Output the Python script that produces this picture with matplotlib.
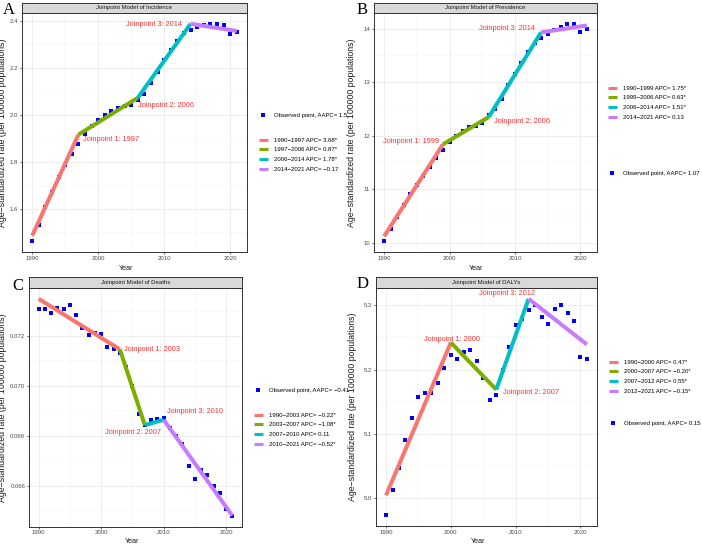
import numpy as np
import matplotlib.pyplot as plt
from matplotlib.lines import Line2D

plt.rcParams['font.family'] = ['Liberation Sans', 'DejaVu Sans']

# Jahre der Beobachtungen
years = np.arange(1990, 2022)

# A: Inzidenz
inc_obs = [1.466, 1.536, 1.610, 1.674, 1.737, 1.790, 1.834, 1.879, 1.921, 1.953,
           1.981, 1.999, 2.016, 2.028, 2.037, 2.043, 2.063, 2.091, 2.137, 2.183,
           2.231, 2.275, 2.314, 2.346, 2.362, 2.372, 2.380, 2.384, 2.386, 2.380,
           2.343, 2.350]
inc_jp = [1990, 1997, 2006, 2014, 2021]
inc_fit = [1.489, 1.917, 2.073, 2.386, 2.356]
inc_seg = ["1990−1997 APC= 3.68*", "1997−2006 APC= 0.87*",
           "2006−2014 APC= 1.78*", "2014−2021 APC= −0.17"]
inc_aapc = "Observed point, AAPC= 1.5"

# B: Prävalenz
prev_obs = [10.03, 10.26, 10.49, 10.70, 10.91, 11.08, 11.25, 11.41, 11.59, 11.73,
            11.88, 11.99, 12.08, 12.16, 12.19, 12.24, 12.38, 12.49, 12.69, 12.94,
            13.16, 13.36, 13.56, 13.73, 13.82, 13.90, 13.97, 14.03, 14.08, 14.09,
            13.94, 14.00]
prev_jp = [1990, 1999, 2006, 2014, 2021]
prev_fit = [10.12, 11.84, 12.35, 13.93, 14.06]
prev_seg = ["1990−1999 APC= 1.75*", "1999−2006 APC= 0.63*",
            "2006−2014 APC= 1.51*", "2014−2021 APC= 0.13"]
prev_aapc = "Observed point, AAPC= 1.07"

# C: Todesfälle
death_obs = [0.07307, 0.07310, 0.07294, 0.07314, 0.07310, 0.07323, 0.07283, 0.07232,
             0.07203, 0.07211, 0.07207, 0.07156, 0.07149, 0.07130, 0.07077, 0.06999,
             0.06885, 0.06842, 0.06861, 0.06866, 0.06869, 0.06832, 0.06798, 0.06767,
             0.06678, 0.06628, 0.06663, 0.06644, 0.06600, 0.06570, 0.06506, 0.06479]
death_jp = [1990, 2003, 2007, 2010, 2021]
death_fit = [0.07349, 0.07146, 0.06842, 0.06864, 0.06479]
death_seg = ["1990−2003 APC= −0.22*", "2003−2007 APC= −1.08*",
             "2007−2010 APC= 0.11", "2010−2021 APC= −0.52*"]
death_aapc = "Observed point, AAPC= −0.41"

# D: DALYs
daly_obs = [4.974, 5.013, 5.047, 5.090, 5.125, 5.157, 5.164, 5.164, 5.180, 5.203,
            5.223, 5.217, 5.227, 5.230, 5.213, 5.187, 5.153, 5.161, 5.200, 5.235,
            5.269, 5.279, 5.292, 5.300, 5.281, 5.271, 5.294, 5.301, 5.288, 5.276,
            5.220, 5.217]
daly_jp = [1990, 2000, 2007, 2012, 2021]
daly_fit = [5.005, 5.242, 5.169, 5.310, 5.239]
daly_seg = ["1990−2000 APC= 0.47*", "2000−2007 APC= −0.20*",
            "2007−2012 APC= 0.55*", "2012−2021 APC= −0.15*"]
daly_aapc = "Observed point, AAPC= 0.15"

seg_colors = ['#F8766D', '#7CAE00', '#00BFC4', '#C77CFF']

W, H = 702, 545
fig = plt.figure(figsize=(7.02, 5.45), dpi=100)


def rect(l, t, r, b):
    return [l / W, 1 - b / H, (r - l) / W, (b - t) / H]


def panel(box, strip_top, title, letter, letter_xy, obs, jp, fit, seg, aapc,
          yticks, ylabels, yminor, notes, seg_xy, obs_xy, ylab_x, xlab):
    ax = fig.add_axes(rect(*box))
    ax.plot(years, obs, 's', color='blue', ms=2.8, mew=0, zorder=2)
    for i in range(4):
        ax.plot(jp[i:i + 2], fit[i:i + 2], color=seg_colors[i], lw=2.9,
                solid_capstyle='butt', zorder=3)

    lo = min(min(obs), min(fit))
    hi = max(max(obs), max(fit))
    pad = 0.05 * (hi - lo)
    ax.set_ylim(lo - pad, hi + pad)
    ax.set_xlim(1990 - 1.55, 2021 + 1.55)

    ax.set_xticks([1990, 2000, 2010, 2020])
    ax.set_xticks([1995, 2005, 2015], minor=True)
    ax.set_yticks(yticks)
    ax.set_yticklabels(ylabels)
    ax.set_yticks(yminor, minor=True)
    ax.grid(which='major', color='#EBEBEB', lw=0.6)
    ax.grid(which='minor', color='#F2F2F2', lw=0.35)
    ax.set_axisbelow(True)
    ax.tick_params(which='major', labelsize=4.3, labelcolor='#4D4D4D',
                   color='#333333', length=1.5, width=0.5, pad=1.2)
    ax.tick_params(which='minor', length=0)
    for s in ax.spines.values():
        s.set_color('#333333')
        s.set_linewidth(0.7)

    ax.set_xlabel("Year", fontsize=5.1, color='#1A1A1A')
    ax.xaxis.set_label_coords(xlab[0], -xlab[1] / (box[3] - box[1]))
    ax.set_ylabel("Age−standardized rate (per 100000 populations)",
                  fontsize=6.3, color='#1A1A1A')
    ax.yaxis.set_label_coords(ylab_x, 0.5)

    for x, y, s in notes:
        ax.text(x, y, s, color='#FF3333', fontsize=5.3, ha='left', va='center')

    # Streifen mit Titel
    sax = fig.add_axes(rect(box[0], strip_top, box[2], box[1]))
    sax.set_facecolor('#D9D9D9')
    sax.set_xticks([])
    sax.set_yticks([])
    for s in sax.spines.values():
        s.set_color('#333333')
        s.set_linewidth(0.7)
    sax.text(0.5, 0.5, title, fontsize=4.3, color='#1A1A1A',
             ha='center', va='center', transform=sax.transAxes)

    fig.text(letter_xy[0] / W, 1 - letter_xy[1] / H, letter,
             family='Liberation Serif', fontsize=12, ha='center', va='baseline')

    kw = dict(loc='upper left', bbox_transform=fig.transFigure, frameon=False,
              fontsize=4.3, handlelength=1.5, handletextpad=1.0,
              labelspacing=0.75, borderpad=0, borderaxespad=0)
    hs = [Line2D([], [], color=c, lw=2.2, solid_capstyle='butt') for c in seg_colors]
    l1 = ax.legend(hs, seg, bbox_to_anchor=(seg_xy[0] / W, 1 - seg_xy[1] / H), **kw)
    ax.add_artist(l1)
    ho = [Line2D([], [], ls='none', marker='s', color='blue', ms=2.3, mew=0)]
    ax.legend(ho, [aapc], bbox_to_anchor=(obs_xy[0] / W, 1 - obs_xy[1] / H), **kw)
    return ax


panel((22, 13, 247, 252), 3, "Joinpoint Model of Incidence", "A", (8.5, 13.5),
      inc_obs, inc_jp, inc_fit, inc_seg, inc_aapc,
      [1.6, 1.8, 2.0, 2.2, 2.4], ["1.6", "1.8", "2.0", "2.2", "2.4"],
      [1.5, 1.7, 1.9, 2.1, 2.3],
      [(1997.7, 1.897, "Joinpoint 1: 1997"), (2006.0, 2.042, "Joinpoint 2: 2006"),
       (2004.2, 2.382, "Joinpoint 3: 2014")],
      (259, 137.5), (259, 112.5), -14.5 / 225, (0.462, 13))

panel((374, 13, 597, 252), 3, "Joinpoint Model of Prevalence", "B", (362.5, 13.5),
      prev_obs, prev_jp, prev_fit, prev_seg, prev_aapc,
      [10, 11, 12, 13, 14], ["10", "11", "12", "13", "14"],
      [10.5, 11.5, 12.5, 13.5],
      [(1989.9, 11.90, "Joinpoint 1: 1999"), (2006.75, 12.26, "Joinpoint 2: 2006"),
       (2004.5, 14.0, "Joinpoint 3: 2014")],
      (608, 85.5), (608, 170.5), -17.5 / 223, (0.457, 13))

panel((29, 288, 242, 526.5), 277, "Joinpoint Model of Deaths", "C", (17.5, 289.5),
      death_obs, death_jp, death_fit, death_seg, death_aapc,
      [0.066, 0.068, 0.070, 0.072], ["0.066", "0.068", "0.070", "0.072"],
      [0.065, 0.067, 0.069, 0.071, 0.073],
      [(2003.7, 0.07146, "Joinpoint 1: 2003"), (2000.6, 0.06814, "Joinpoint 2: 2007"),
       (2010.5, 0.06896, "Joinpoint 3: 2010")],
      (254, 412.5), (254, 388), -21.5 / 213, (0.486, 11.5))

panel((376, 288, 597, 526), 277, "Joinpoint Model of DALYs", "D", (362.5, 288.5),
      daly_obs, daly_jp, daly_fit, daly_seg, daly_aapc,
      [5.0, 5.1, 5.2, 5.3], ["5.0", "5.1", "5.2", "5.3"],
      [5.05, 5.15, 5.25],
      [(1995.8, 5.247, "Joinpoint 1: 2000"), (2008.05, 5.165, "Joinpoint 2: 2007"),
       (2004.35, 5.318, "Joinpoint 3: 2012")],
      (609, 359.5), (609, 420.5), -19 / 221, (0.464, 12))

fig.savefig('out.png', dpi=100)
